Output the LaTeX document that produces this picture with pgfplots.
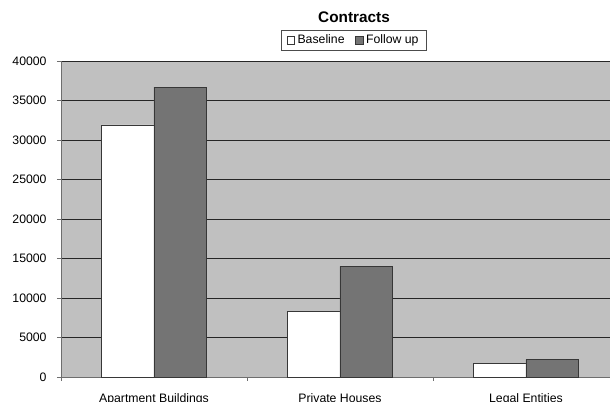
\documentclass[border=0pt]{standalone}
\usepackage{fontspec}
\setmainfont{Liberation Sans}
\usepackage{pgfplots}
\pgfplotsset{compat=1.18}
\definecolor{plotbg}{RGB}{192,192,192}
\definecolor{follow}{RGB}{116,116,116}
\definecolor{edge}{RGB}{55,55,55}
\definecolor{axisgray}{RGB}{110,110,110}
\pgfplotsset{
  sqlegend/.style={legend image code/.code={\draw[##1,line width=0.45pt] (0pt,-2.8pt) rectangle (5.6pt,2.8pt);}}
}
\begin{document}
\begin{tikzpicture}
\begin{axis}[
  scale only axis, width=411.75pt, height=237pt,
  xmin=-0.5, xmax=2.452, ymin=0, ymax=40000,
  clip=false,
  axis lines*=left,
  axis line style={draw=axisgray, line width=0.6pt},
  axis background/.style={fill=plotbg},
  ybar, bar width=0.2833,
  ytick={0,5000,...,40000},
  scaled y ticks=false,
  ymajorgrids, major grid style={black!85, line width=0.6pt},
  xtick={0,1,2},
  xticklabels={Apartment Buildings, Private Houses, Legal Entities},
  minor xtick={-0.5,0.5,1.5},
  tick align=outside,
  major tick length=3pt, minor tick length=3pt,
  tick style={draw=axisgray, line width=0.6pt},
  major x tick style={draw=none},
  ticklabel style={font=\fontsize{9.2}{10}\selectfont},
  /pgf/number format/assume math mode=true,
  /pgf/number format/1000 sep={},
  yticklabel style={xshift=-4.3pt},
  xticklabel style={anchor=base, yshift=-16pt},
  legend style={at={(0.5337,1.0649)}, anchor=center, legend columns=2,
    draw=black!70, line width=0.5pt, fill=white,
    font=\fontsize{9.2}{10}\selectfont,
    inner xsep=4pt, inner ysep=1.5pt,
    /tikz/every even column/.append style={column sep=6pt}},
  legend cell align=left,
]
\addplot[fill=white, draw=edge, line width=0.6pt, bar shift=-0.14165, sqlegend]
  coordinates {(0,31900) (1,8300) (2,1700)};
\addlegendentry{Baseline}
\addplot[fill=follow, draw=edge, line width=0.6pt, bar shift=0.14165, sqlegend]
  coordinates {(0,36700) (1,14000) (2,2200)};
\addlegendentry{Follow up}
\node[font=\bfseries\fontsize{11.5}{13}\selectfont] at (axis description cs:0.5337,1.140) {Contracts};
\coordinate (sw) at (rel axis cs:0,0);
\end{axis}
\pgfresetboundingbox
\path[use as bounding box] ([xshift=-45.75pt,yshift=-18.75pt]sw) rectangle ([xshift=411.75pt,yshift=282.75pt]sw);
\end{tikzpicture}
\end{document}
